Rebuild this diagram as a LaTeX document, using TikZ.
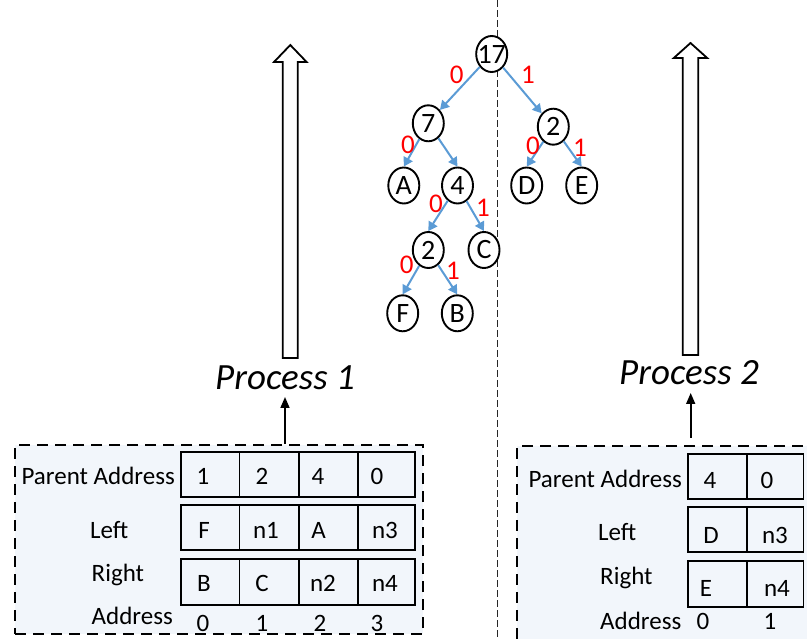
\documentclass[tikz,border=0pt]{standalone}
\usepackage{fontspec}
\setmainfont{Carlito}
\usetikzlibrary{arrows.meta,shapes.geometric}
\definecolor{edgeblue}{RGB}{91,155,213}
\definecolor{boxfill}{RGB}{242,246,251}
\newcommand\treefnt{\fontsize{28}{28}\selectfont}
\newcommand\bitfnt{\fontsize{27}{27}\selectfont}
\newcommand\cellfnt{\fontsize{25}{25}\selectfont}
\newcommand\procfnt{\fontsize{37}{37}\selectfont\itshape}
\begin{document}
\begin{tikzpicture}[x=1pt,y=-1pt,
  treenode/.style={draw, ellipse, line width=1.9pt, minimum width=31pt, minimum height=36pt, inner sep=0pt, fill=white},
  tlabel/.style={inner sep=0pt, font=\treefnt},
  tedge/.style={draw=edgeblue, line width=2pt, -{Triangle[length=9pt,width=10pt]}},
  bit/.style={text=red, font=\bitfnt, inner sep=0pt},
  celltxt/.style={anchor=base, inner sep=0pt, font=\cellfnt},
  lbl/.style={inner sep=0pt, font=\cellfnt},
  cellbox/.style={draw, line width=1.8pt},
  groupbox/.style={draw, fill=boxfill, line width=1.8pt, dash pattern=on 11pt off 7pt, inner sep=0pt},
  bigarrow/.style={draw, fill=white, line width=1.8pt, line join=miter},
  smallarrow/.style={line width=1.6pt, -{Triangle[length=11pt,width=9pt]}},
  proc/.style={anchor=base, inner sep=0pt, font=\procfnt}
]
\useasboundingbox (0,0) rectangle (807,639);
\clip (0,0) rectangle (807,639);

% group boxes
\node[groupbox, minimum width=408pt, minimum height=189pt] (box1) at (219,539.5) {};
\node[groupbox, minimum width=320pt, minimum height=240pt] (box2) at (677,566) {};

% centre divider
\draw[line width=0.9pt, black!85, dash pattern=on 7pt off 3pt] (497,0) -- (497,639);

% big hollow arrows
\draw[bigarrow] (282.8,358) -- (282.8,62) -- (274,62) -- (290.3,45) -- (306.6,62) -- (297.8,62) -- (297.8,358) -- cycle;
\draw[bigarrow] (682.7,355) -- (682.7,58) -- (673.8,58) -- (690.5,43) -- (707.2,58) -- (698.3,58) -- (698.3,355) -- cycle;

% process labels
\node[proc] (p1) at (285,390) {Process 1};
\node[proc] (p2) at (689,385) {Process 2};
\coordinate (t1) at (285,397);
\coordinate (t2) at (690.7,393);
\coordinate (s2) at (690.7,438);
\draw[smallarrow] (box1.north -| t1) -- (t1);
\draw[smallarrow] (s2) -- (t2);

% tree
\node[treenode, label={[tlabel]center:17}] (n17) at (491.7,54) {};
\node[treenode, label={[tlabel]center:7}] (n7) at (428.3,123.3) {};
\node[treenode, label={[tlabel]center:2}] (n2r) at (553.3,126.7) {};
\node[treenode, label={[tlabel]center:A}] (nA) at (403.8,185.5) {};
\node[treenode, label={[tlabel]center:4}] (n4) at (457.5,185.5) {};
\node[treenode, label={[tlabel]center:D}] (nD) at (526.7,185.5) {};
\node[treenode, label={[tlabel]center:E}] (nE) at (581.7,185.5) {};
\node[treenode, label={[tlabel]center:2}] (n2l) at (428.3,250) {};
\node[treenode, label={[tlabel]center:C}] (nC) at (484,250) {};
\node[treenode, label={[tlabel]center:F}] (nF) at (402.7,313.3) {};
\node[treenode, label={[tlabel]center:B}] (nB) at (457.3,313.3) {};

\draw[tedge] (n17) -- (n7.north east);
\draw[tedge] (n17) -- (n2r.north west);
\draw[tedge] (n7) -- (nA.north);
\draw[tedge] (n7) -- (n4.north);
\draw[tedge] (n2r) -- (nD.north);
\draw[tedge] (n2r) -- (nE.north);
\draw[tedge] (n4) -- (n2l.north);
\draw[tedge] (n4) -- (nC.north);
\draw[tedge] (n2l) -- (nF.north);
\draw[tedge] (n2l) -- (nB.north);

\node[bit] (b1) at (456.7,75.3) {0};
\node[bit] (b2) at (528,75) {1};
\node[bit] (b3) at (408,145) {0};
\node[bit] (b4) at (533,145.5) {0};
\node[bit] (b5) at (580,147.5) {1};
\node[bit] (b6) at (436,204) {0};
\node[bit] (b7) at (483,207.5) {1};
\node[bit] (b8) at (406.7,265) {0};
\node[bit] (b9) at (453,270.5) {1};

% left table cells
\foreach \ya/\yb in {452/497,505/550,559/605}{
  \foreach \xa/\xb in {181/239.5,239.5/299,299/358,358/415}{
    \draw[cellbox] (\xa,\ya) rectangle (\xb,\yb);
  }
}
% right table cells
\foreach \ya/\yb in {454/499,507/552,561/607}{
  \foreach \xa/\xb in {688/747,747/803.5}{
    \draw[cellbox] (\xa,\ya) rectangle (\xb,\yb);
  }
}

% left labels
\node[lbl, anchor=base east] (lpa) at (175,484) {Parent Address};
\node[lbl, anchor=base west] (lle) at (90,538) {Left};
\node[lbl, anchor=base west] (lri) at (91.5,581) {Right};
\node[lbl, anchor=base west] (lad) at (91.5,624.5) {Address};
% left contents
\node[celltxt] (l11) at (203,485) {1};
\node[celltxt] (l12) at (262,485) {2};
\node[celltxt] (l13) at (318,485) {4};
\node[celltxt] (l14) at (377,485) {0};
\node[celltxt] (l21) at (204,538) {F};
\node[celltxt] (l22) at (266,538) {n1};
\node[celltxt] (l23) at (318.5,538) {A};
\node[celltxt] (l24) at (385,538) {n3};
\node[celltxt] (l31) at (204,591) {B};
\node[celltxt] (l32) at (262,591) {C};
\node[celltxt] (l33) at (323,591) {n2};
\node[celltxt] (l34) at (385,591) {n4};
\node[celltxt] (l41) at (203,631) {0};
\node[celltxt] (l42) at (262,631) {1};
\node[celltxt] (l43) at (320,631) {2};
\node[celltxt] (l44) at (377,631) {3};

% right labels
\node[lbl, anchor=base east] (rpa) at (682,487) {Parent Address};
\node[lbl, anchor=base west] (rle) at (598,540) {Left};
\node[lbl, anchor=base west] (rri) at (600,584) {Right};
\node[lbl, anchor=base west] (rad) at (600,629) {Address};
% right contents
\node[celltxt] (r11) at (710,488) {4};
\node[celltxt] (r12) at (767,488) {0};
\node[celltxt] (r21) at (711,543) {D};
\node[celltxt] (r22) at (775,543) {n3};
\node[celltxt] (r31) at (706,596) {E};
\node[celltxt] (r32) at (777,596) {n4};
\node[celltxt] (r41) at (703,629) {0};
\node[celltxt] (r42) at (770,629) {1};
\end{tikzpicture}
\end{document}
